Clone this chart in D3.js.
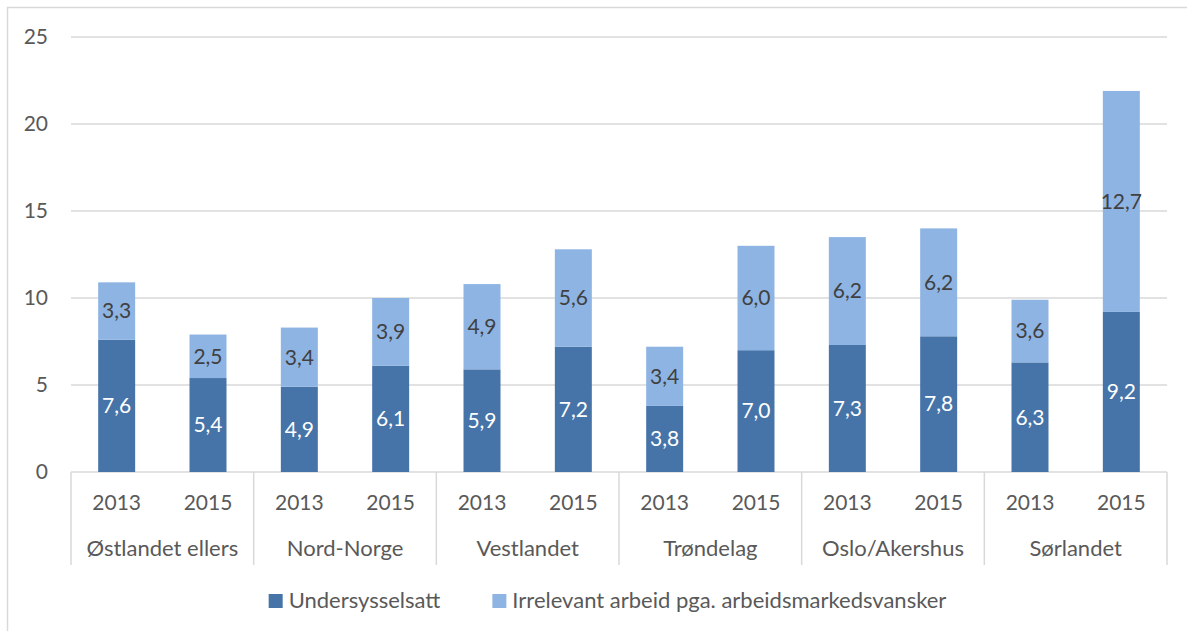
<!DOCTYPE html>
<html>
<head>
<meta charset="utf-8">
<script src="https://cdn.jsdelivr.net/npm/d3@7"></script>
<style>
  body { margin: 0; background: #fff; }
  svg text { font-family: Lato, "Open Sans", sans-serif; }
</style>
</head>
<body>
<svg id="chart" width="1187" height="631"></svg>
<script>
// regions, each with two years
const regions = ["Østlandet ellers", "Nord-Norge", "Vestlandet", "Trøndelag", "Oslo/Akershus", "Sørlandet"];
const years = ["2013", "2015"];
const seriesNames = ["Undersysselsatt", "Irrelevant arbeid pga. arbeidsmarkedsvansker"];
// values per bar, in order region x year
const undersysselsatt = [7.6, 5.4, 4.9, 6.1, 5.9, 7.2, 3.8, 7.0, 7.3, 7.8, 6.3, 9.2];
const irrelevant = [3.3, 2.5, 3.4, 3.9, 4.9, 5.6, 3.4, 6.0, 6.2, 6.2, 3.6, 12.7];
const yTicks = [0, 5, 10, 15, 20, 25];

const colors = ["#4674a8", "#8eb4e3"];
const labelColors = ["#ffffff", "#404040"];
const textColor = "#595959";
const gridColor = "#d9d9d9";

const svg = d3.select("#chart");
const margin = { left: 71, right: 1167, top: 37, bottom: 472 };

// chart border
svg.append("rect")
  .attr("x", 7.5).attr("y", 7.5)
  .attr("width", 1200).attr("height", 700)
  .attr("fill", "none").attr("stroke", gridColor).attr("stroke-width", 1.5);

// bar data
const bars = [];
regions.forEach((r, i) => {
  years.forEach((yr, j) => {
    const k = i * years.length + j;
    bars.push({ key: r + "|" + yr, region: r, year: yr, s0: undersysselsatt[k], s1: irrelevant[k] });
  });
});

const x = d3.scaleBand()
  .domain(bars.map(d => d.key))
  .range([margin.left, margin.right])
  .paddingInner(0.595)
  .paddingOuter(0.2975);

const y = d3.scaleLinear()
  .domain([0, 25])
  .range([margin.bottom, margin.top]);

// gridlines
svg.append("g")
  .selectAll("line")
  .data(yTicks)
  .enter()
  .append("line")
  .attr("x1", margin.left).attr("x2", margin.right)
  .attr("y1", d => y(d)).attr("y2", d => y(d))
  .attr("stroke", gridColor).attr("stroke-width", 1.5);

// y-axis labels
svg.append("g")
  .selectAll("text")
  .data(yTicks)
  .enter()
  .append("text")
  .attr("x", 48)
  .attr("y", d => y(d))
  .attr("dy", "0.35em")
  .attr("text-anchor", "end")
  .attr("font-size", 21)
  .attr("fill", textColor)
  .text(d => d);

// stack the two series
const stack = d3.stack().keys(["s0", "s1"]);
const stacked = stack(bars);

const layers = svg.append("g")
  .selectAll("g")
  .data(stacked)
  .enter()
  .append("g")
  .attr("fill", (d, i) => colors[i]);

layers.selectAll("rect")
  .data(d => d)
  .enter()
  .append("rect")
  .attr("x", d => x(d.data.key))
  .attr("y", d => y(d[1]))
  .attr("width", x.bandwidth())
  .attr("height", d => y(d[0]) - y(d[1]));

// data labels
stacked.forEach((layer, i) => {
  svg.append("g")
    .selectAll("text")
    .data(layer)
    .enter()
    .append("text")
    .attr("x", d => x(d.data.key) + x.bandwidth() / 2)
    .attr("y", d => y((d[0] + d[1]) / 2))
    .attr("dy", "0.35em")
    .attr("text-anchor", "middle")
    .attr("font-size", 21)
    .attr("fill", labelColors[i])
    .text(d => d3.format(".1f")(d[1] - d[0]).replace(".", ","));
});

// category axis: year labels
svg.append("g")
  .selectAll("text")
  .data(bars)
  .enter()
  .append("text")
  .attr("x", d => x(d.key) + x.bandwidth() / 2)
  .attr("y", 510)
  .attr("text-anchor", "middle")
  .attr("font-size", 21)
  .attr("fill", textColor)
  .text(d => d.year);

// region labels + separators
const step = x.step();
const groupW = step * years.length;
const groupX = i => margin.left + i * groupW;

svg.append("g")
  .selectAll("text")
  .data(regions)
  .enter()
  .append("text")
  .attr("x", (d, i) => groupX(i) + groupW / 2)
  .attr("y", 556)
  .attr("text-anchor", "middle")
  .attr("font-size", 22)
  .attr("fill", textColor)
  .text(d => d);

svg.append("g")
  .selectAll("line")
  .data(d3.range(regions.length + 1))
  .enter()
  .append("line")
  .attr("x1", i => groupX(i)).attr("x2", i => groupX(i))
  .attr("y1", margin.bottom).attr("y2", 565)
  .attr("stroke", gridColor).attr("stroke-width", 1.5);

// legend
const legend = svg.append("g");
let lx = 0;
seriesNames.forEach((name, i) => {
  const g = legend.append("g").attr("transform", `translate(${lx},0)`);
  g.append("rect")
    .attr("x", 0).attr("y", 594)
    .attr("width", 14).attr("height", 14)
    .attr("fill", colors[i]);
  const t = g.append("text")
    .attr("x", 20).attr("y", 608)
    .attr("font-size", 22)
    .attr("fill", textColor)
    .text(name);
  lx += 20 + t.node().getComputedTextLength() + 52;
});
const legendW = lx - 52;
legend.attr("transform", `translate(${607.5 - legendW / 2},0)`);
</script>
</body>
</html>
